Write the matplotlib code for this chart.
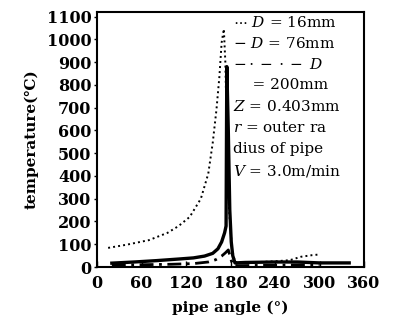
import matplotlib
matplotlib.use("Agg")
import matplotlib.pyplot as plt

plt.rcParams['mathtext.fontset'] = 'dejavuserif'

# D = 16mm (dotted)
angle_16 = [15, 40, 70, 95, 110, 125, 140, 150, 156, 161, 165, 168, 171, 173, 175, 178, 182, 186,
            200, 220, 240, 260, 275, 290, 300]
temp_16 = [84, 98, 118, 150, 180, 220, 300, 410, 545, 690, 836, 985, 1045, 900, 600, 250, 80, 22,
           20, 22, 25, 30, 45, 52, 55]

# D = 76mm (solid)
angle_76 = [20, 50, 80, 110, 130, 145, 156, 163, 168, 172, 174, 175, 177, 179, 181, 183, 186,
            200, 240, 270, 300, 340]
temp_76 = [17, 22, 28, 35, 40, 48, 60, 80, 110, 150, 180, 880, 600, 250, 110, 50, 18,
           20, 22, 22, 18, 18]

# D = 200mm (dash-dot)
angle_200 = [20, 60, 100, 130, 150, 160, 168, 173, 177, 180, 183, 190, 240, 300]
temp_200 = [8, 10, 12, 15, 22, 32, 48, 62, 75, 40, 8, 6, 8, 10]

xticks = [0, 60, 120, 180, 240, 300, 360]
yticks = list(range(0, 1200, 100))

legend_lines = [
    r"$\cdots$ $D$ = 16mm",
    r"$-$ $D$ = 76mm",
    r"$-\cdot-\cdot-$ $D$",
    "    = 200mm",
    r"$Z$ = 0.403mm",
    r"$r$ = outer ra",
    "dius of pipe",
    r"$V$ = 3.0m/min",
]

fig = plt.figure(figsize=(3.95, 3.2), dpi=100)
ax = fig.add_axes([0.2456, 0.1656, 0.676, 0.797])

ax.plot(angle_16, temp_16, color='black', linestyle=(0, (1, 1.6)), linewidth=1.4)
ax.plot(angle_76, temp_76, color='black', linestyle='-', linewidth=2.4)
ax.plot(angle_200, temp_200, color='black', linestyle=(0, (5, 2, 1, 2)), linewidth=2.0)

ax.set_xlim(0, 360)
ax.set_ylim(0, 1120)
ax.set_xticks(xticks)
ax.set_yticks(yticks)
ax.tick_params(axis='x', direction='in', length=4, width=1, pad=6)
ax.tick_params(axis='y', direction='out', length=2, width=1, pad=2)
for lab in ax.get_xticklabels() + ax.get_yticklabels():
    lab.set_fontfamily('DejaVu Serif')
    lab.set_fontweight('bold')
    lab.set_fontsize(11.5)
for s in ax.spines.values():
    s.set_linewidth(1.5)

ax.set_ylabel("temperature(℃)", fontfamily='DejaVu Serif', fontweight='bold', fontsize=11, labelpad=6)
ax.set_xlabel("pipe angle (°)", fontfamily='DejaVu Serif', fontweight='bold', fontsize=11, labelpad=6)

y0 = 0.99
for i, line in enumerate(legend_lines):
    ax.text(0.51, y0 - i * 0.083, line, transform=ax.transAxes, fontsize=11,
            fontfamily='DejaVu Serif', ha='left', va='top')

fig.savefig("out.png", dpi=100)
